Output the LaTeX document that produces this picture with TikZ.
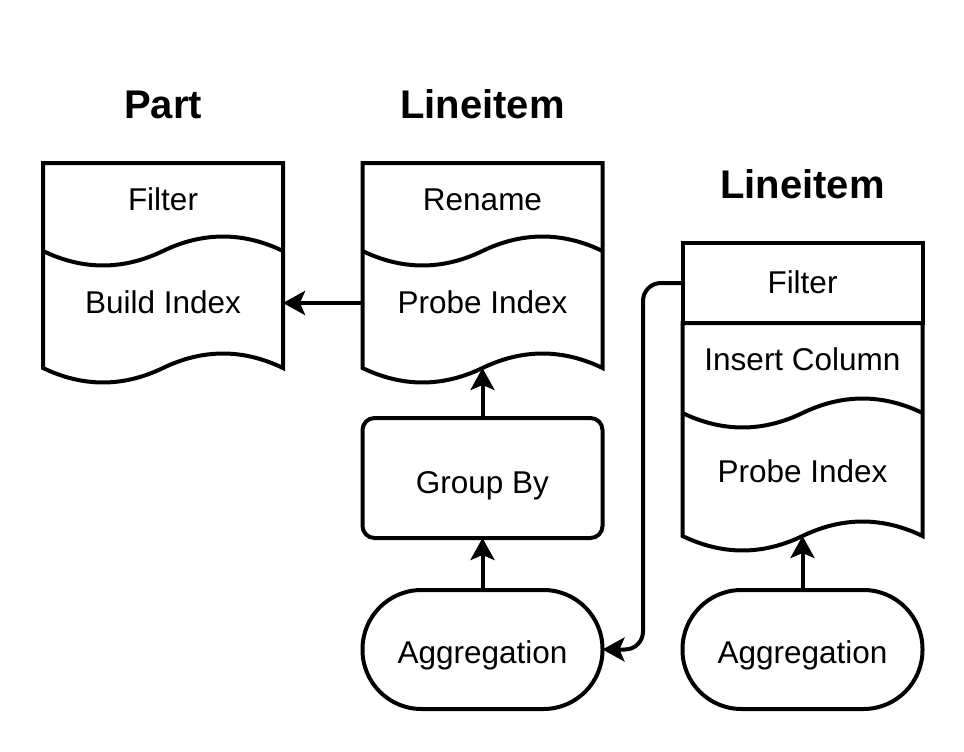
\documentclass[tikz,border=0pt]{standalone}
\usepackage{fontspec}
\setmainfont{Liberation Sans}
\usetikzlibrary{arrows.meta}
\tikzset{
  lw/.style={line width=4pt},
  box/.style={lw, draw=black, fill=white, line join=miter},
  edge/.style={lw, draw=black, -{Stealth[length=22pt,width=24pt,inset=5pt]}},
  lbl/.style={font=\fontsize{31.5}{37}\selectfont, inner sep=0pt, outer sep=0pt,
    text height=24.5pt, text depth=4pt, minimum width=240pt, align=center},
  ttl/.style={font=\fontsize{40}{48}\selectfont\bfseries, anchor=base, inner sep=0pt},
  wave/.style n args={3}{insert path={
    .. controls ({#1+5*#3/6},{#2-19.3}) and ({#1+2*#3/3},{#2-19.3}) .. ({#1+#3/2},#2)
    .. controls ({#1+#3/3},{#2+19.3}) and ({#1+#3/6},{#2+19.3}) .. (#1,#2)}}
}
\begin{document}
\begin{tikzpicture}[x=1pt,y=-1pt]
\useasboundingbox[fill=white] (0,0) rectangle (964,752);

% titles
\node[ttl] (tpart) at (163,118) {Part};
\node[ttl] (tli1) at (482.5,118) {Lineitem};
\node[ttl] (tli2) at (802.5,198) {Lineitem};

% Part box
\draw[box] (43,163) -- (283,163) -- (283,368) [wave={43}{368}{240}] -- cycle;
\draw[lw] (283,251) [wave={43}{251}{240}];
% Lineitem box (middle)
\draw[box] (362.5,163) -- (602.5,163) -- (602.5,368) [wave={362.5}{368}{240}] -- cycle;
\draw[lw] (602.5,251) [wave={362.5}{251}{240}];
% Lineitem box (right)
\draw[box] (682.5,323) -- (922.5,323) -- (922.5,536) [wave={682.5}{536}{240}] -- cycle;
\draw[lw] (922.5,413) [wave={682.5}{413}{240}];

% labels
\node[lbl] (f1) at (163,200) {Filter};
\node[lbl] (bi) at (163,303) {Build Index};
\node[lbl] (rn) at (482.5,200) {Rename};
\node[lbl] (pi1) at (482.5,303) {Probe Index};
\node[box, lbl, minimum height=80pt] (filt) at (802.5,283) {Filter};
\node[lbl] (ic) at (802.5,360) {Insert Column};
\node[lbl] (pi2) at (802.5,472) {Probe Index};
\node[box, lbl, rounded corners=12pt, minimum height=120pt, text height=34.5pt] (gb) at (482.5,478) {Group By};
\node[box, lbl, rounded corners=59pt, minimum height=119pt, text height=31pt] (ag1) at (482.5,649.5) {Aggregation};
\node[box, lbl, rounded corners=59pt, minimum height=119pt, text height=31pt] (ag2) at (802.5,649.5) {Aggregation};

% connectors
\coordinate (pb1) at (482.5,368);
\coordinate (pb2) at (802.5,536);
\draw[edge] (pi1.west) -- (bi.east);
\draw[edge] (gb.north) -- (pb1);
\draw[edge] (ag1.north) -- (gb.south);
\draw[edge] (ag2.north) -- (pb2);
\draw[edge, rounded corners=18pt] (filt.west) -- ++(-39.5,0) |- (ag1.east);
\end{tikzpicture}
\end{document}
